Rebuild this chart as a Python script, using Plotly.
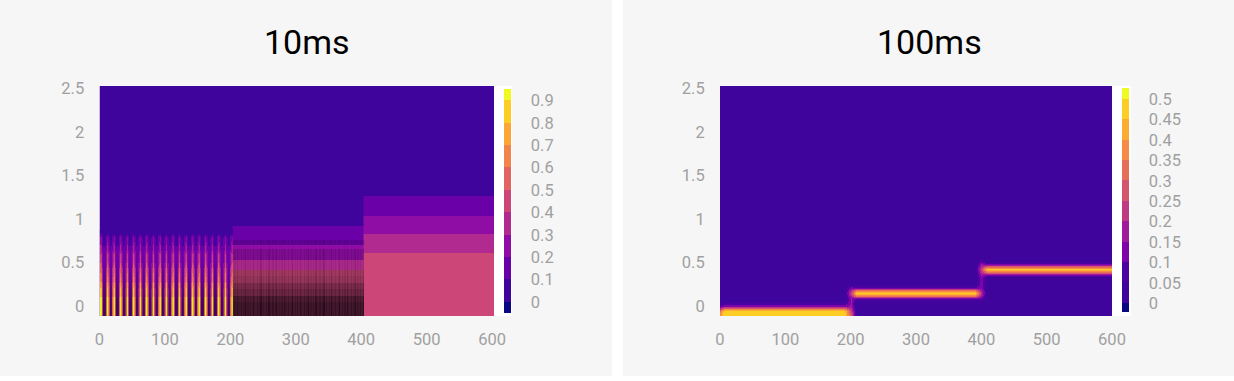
import plotly.graph_objects as go

W, H = 1234, 381
TITLE_L, TITLE_R = "10ms", "100ms"
X_TICKS = [0, 100, 200, 300, 400, 500, 600]
Y_TICKS = [0, 0.5, 1, 1.5, 2, 2.5]
Y_LABELS = ["0", "0.5", "1", "1.5", "2", "2.5"]
CB_L_TICKS = [0, .1, .2, .3, .4, .5, .6, .7, .8, .9]
CB_L_LABELS = ["0", "0.1", "0.2", "0.3", "0.4", "0.5", "0.6", "0.7", "0.8", "0.9"]
CB_R_TICKS = [0, .05, .1, .15, .2, .25, .3, .35, .4, .45, .5]
CB_R_LABELS = ["0", "0.05", "0.1", "0.15", "0.2", "0.25", "0.3", "0.35", "0.4", "0.45", "0.5"]

COLORS_L = ["#0a0880", "#3f049b", "#6a00a8", "#8f0da4", "#b12a90", "#cc4778",
            "#e16462", "#f1844b", "#fca636", "#fcce25", "#f0f921"]
COLORS_R = ["#0a0880", "#3e049c", "#4c02a1", "#7e03a8", "#a01a9c", "#c03a83",
            "#d5546e", "#e76f5a", "#f58b47", "#fdab33", "#fcce25", "#f0f921"]

# ---------- 10ms panel: values
# first 200 units: one spectrum per pulse position
Y_PULSE = [-.115, 0, .1, .2, .3, .4, .5, .6, .7, .8, .85]
PULSE_CENTRE = [.95, .95, .90, .82, .68, .58, .50, .40, .30, .20, .05]
PULSE_SIDE = [.60, .55, .50, .45, .38, .32, .27, .22, .16, .12, .05]
PULSE_GAP = [.16, .16, .15, .15, .14, .14, .13, .12, .10, .08, .05]
SHADE_CENTRE = [0, 0, 0, 0, 0, 0, 0, 0, 0, 0, 0]
SHADE_SIDE = [.08, .08, .06, .04, 0, 0, 0, 0, 0, 0, 0]
SHADE_GAP = [.45, .42, .35, .25, .15, .08, 0, 0, 0, 0, 0]

# later segments: band edges
Y_EDGES_L = [-0.115, .05, .12, .2, .27, .35, .41, .53, .615, .66, .70, .76, .83, .92, 1.04, 1.26, 2.53]
BASE_LEVEL = [.05, .05, .05, .05, .05, .05, .05, .05, .05, .05, .05, .05, .05, .05, .05, .05]
MID_LEVEL = [.42, .42, .42, .42, .42, .42, .38, .28, .25, .25, .15, .15, .15, .05, .05, .05]
MID_SHADE = [.72, .66, .50, .42, .28, .22, .04, .12, .12, 0, .10, 0, 0, 0, 0, 0]
MID_FLICKER = [0, .08, 0, .14, .03, 0, .1, 0, .05, .16, 0, .06]
LONG_LEVEL = [.45, .45, .45, .45, .45, .45, .45, .45, .35, .35, .35, .35, .25, .25, .15, .05]

x_pulse, pulse_cols, pulse_shade_cols = [], [], []
for k in range(21):
    steps = [(PULSE_CENTRE, SHADE_CENTRE), (PULSE_SIDE, SHADE_SIDE), (PULSE_GAP, SHADE_GAP),
             (PULSE_GAP, SHADE_GAP), (PULSE_SIDE, SHADE_SIDE)]
    for j, (prof, shade) in enumerate(steps if k < 20 else steps[:2]):
        x_pulse.append(1.5 + 10 * k + 2 * j)
        pulse_cols.append(prof)
        pulse_shade_cols.append(shade)
z_pulse = [[c[r] for c in pulse_cols] for r in range(len(Y_PULSE))]
z_pulse_shade = [[c[r] for c in pulse_shade_cols] for r in range(len(Y_PULSE))]

x_edges_l = [0, 204]
cols_l = [BASE_LEVEL]
for i in range(100):
    cols_l.append(MID_LEVEL)
    x_edges_l.append(x_edges_l[-1] + 2)
cols_l.append(LONG_LEVEL)
x_edges_l.append(604)
z_l = [[c[r] for c in cols_l] for r in range(len(Y_EDGES_L) - 1)]

x_shade = [204 + 2 * i for i in range(101)]
z_shade = [[min(1, s + MID_FLICKER[i % len(MID_FLICKER)] * (1 if s else 0)) for i in range(100)] for s in MID_SHADE]

# ---------- 100ms panel
Y_R = [-.12, -.09, -.06, -.03, 0, .03, .06, .09, .12, .15, .18, .21, .24, .27, .33, .36, .39, .42, .45, .48, .51, .54, .6, 2.53]
SEG1 = [.49, .49, .48, .36, .14, .06, .02, .02, .02, .02, .02, .02, .02, .02, .02, .02, .02, .02, .02, .02, .02, .02, .02, .02]
SEG1_EDGE = [.38, .38, .34, .22, .09, .04, .02, .02, .02, .02, .02, .02, .02, .02, .02, .02, .02, .02, .02, .02, .02, .02, .02, .02]
TRANS1 = [.30, .26, .24, .20, .16, .15, .15, .15, .19, .23, .19, .13, .05, .02, .02, .02, .02, .02, .02, .02, .02, .02, .02, .02]
SEG2 = [.02, .02, .02, .02, .02, .02, .04, .12, .32, .47, .32, .12, .04, .02, .02, .02, .02, .02, .02, .02, .02, .02, .02, .02]
TRANS2 = [.02, .02, .02, .02, .02, .02, .04, .10, .16, .21, .17, .13, .13, .13, .13, .16, .20, .23, .20, .16, .10, .04, .02, .02]
SEG3 = [.02, .02, .02, .02, .02, .02, .02, .02, .02, .02, .02, .02, .02, .02, .04, .12, .33, .47, .33, .12, .04, .02, .02, .02]
X_R = [0, 6, 190, 200, 208, 391, 400, 409, 600]
COLS_R = [SEG1_EDGE, SEG1, SEG1, TRANS1, SEG2, SEG2, TRANS2, SEG3, SEG3]
z_r = [[c[r] for c in COLS_R] for r in range(len(Y_R))]


def stepped(colors, zmin, zmax, bounds):
    pos = [0] + [(b - zmin) / (zmax - zmin) for b in bounds] + [1]
    out = []
    for i, c in enumerate(colors):
        out += [[pos[i], c], [pos[i + 1], c]]
    return out


def px(v):
    return v / W


def py(v):
    return 1 - v / H


tick = dict(family="Roboto", size=16.5, color="#a0a0a0")


def cbar(x, top, bottom, ticks, labels):
    return dict(x=px(x), xanchor="left", xpad=0, ypad=0, y=py(bottom), yanchor="bottom", lenmode="fraction",
                len=(bottom - top) / H, thickness=7, outlinewidth=0, ticks="outside", ticklen=17,
                tickcolor="rgba(0,0,0,0)", tickmode="array", tickvals=ticks, ticktext=labels, tickfont=tick)


scale_l = stepped(COLORS_L, -.05, .95, CB_L_TICKS)
dark = [[0, "rgba(15,5,15,0)"], [1, "rgba(15,5,15,1)"]]
fig = go.Figure()
fig.add_trace(go.Heatmap(x=x_edges_l, y=Y_EDGES_L, z=z_l, zmin=-.05, zmax=.95, xaxis="x", yaxis="y",
                         colorscale=scale_l, colorbar=cbar(504, 89.3, 313.3, CB_L_TICKS, CB_L_LABELS),
                         hoverinfo="skip"))
fig.add_trace(go.Heatmap(x=x_pulse, y=Y_PULSE, z=z_pulse, zmin=-.05, zmax=.95, xaxis="x", yaxis="y", zsmooth="best",
                         colorscale=scale_l, showscale=False, hoverinfo="skip"))
fig.add_trace(go.Heatmap(x=x_pulse, y=Y_PULSE, z=z_pulse_shade, zmin=0, zmax=1, xaxis="x", yaxis="y", zsmooth="best",
                         colorscale=dark, showscale=False, hoverinfo="skip"))
fig.add_trace(go.Heatmap(x=x_shade, y=Y_EDGES_L, z=z_shade, zmin=0, zmax=1, xaxis="x", yaxis="y", showscale=False,
                         colorscale=dark, hoverinfo="skip"))
fig.add_trace(go.Heatmap(x=X_R, y=Y_R, z=z_r, zmin=-.0225, zmax=.5265, xaxis="x2", yaxis="y2", zsmooth="best",
                         colorscale=stepped(COLORS_R, -.0225, .5265, CB_R_TICKS),
                         colorbar=cbar(1122, 88.3, 312.3, CB_R_TICKS, CB_R_LABELS), hoverinfo="skip"))


def xax(d0, d1, rng, anchor):
    return dict(domain=[px(d0), px(d1)], range=rng, anchor=anchor, tickmode="array", tickvals=X_TICKS,
                showgrid=False, zeroline=False, showline=False, ticks="outside", ticklen=8,
                tickcolor="rgba(0,0,0,0)", tickfont=tick, automargin=False)


def yax(anchor):
    return dict(domain=[py(316), py(86)], range=[-.115, 2.53], anchor=anchor, tickmode="array", tickvals=Y_TICKS,
                ticktext=Y_LABELS, showgrid=False, zeroline=False, showline=False, ticks="outside", ticklen=11,
                tickcolor="rgba(0,0,0,0)", tickfont=tick, automargin=False)


def rect(x0, x1, y0, y1, color):
    return dict(type="rect", xref="paper", yref="paper", x0=px(x0), x1=px(x1), y0=py(y1), y1=py(y0),
                fillcolor=color, line_width=0, layer="below")


fig.update_layout(
    width=W, height=H, autosize=False, margin=dict(l=0, r=0, t=0, b=0, autoexpand=False),
    paper_bgcolor="#ffffff", plot_bgcolor="#ffffff", showlegend=False,
    xaxis=xax(99.5, 494, [0, 603], "y"), yaxis=yax("x"),
    xaxis2=xax(720, 1112, [0, 600], "y2"), yaxis2=yax("x2"),
    shapes=[rect(0, 612, 0, 376, "#f6f6f6"), rect(623, 1234, 0, 376, "#f6f6f6"),
            rect(494, 512, 86, 316, "#ffffff"), rect(1112, 1131, 86, 316, "#ffffff")],
    annotations=[
        dict(text=TITLE_L, x=px(307), y=py(42), xref="paper", yref="paper", showarrow=False, xanchor="center",
             yanchor="middle", font=dict(family="Roboto", size=34, color="#000000")),
        dict(text=TITLE_R, x=px(929), y=py(42), xref="paper", yref="paper", showarrow=False, xanchor="center",
             yanchor="middle", font=dict(family="Roboto", size=34, color="#000000")),
    ],
)
fig.write_html("out.html", config=dict(displayModeBar=False), post_script="document.body.style.margin='0';")
